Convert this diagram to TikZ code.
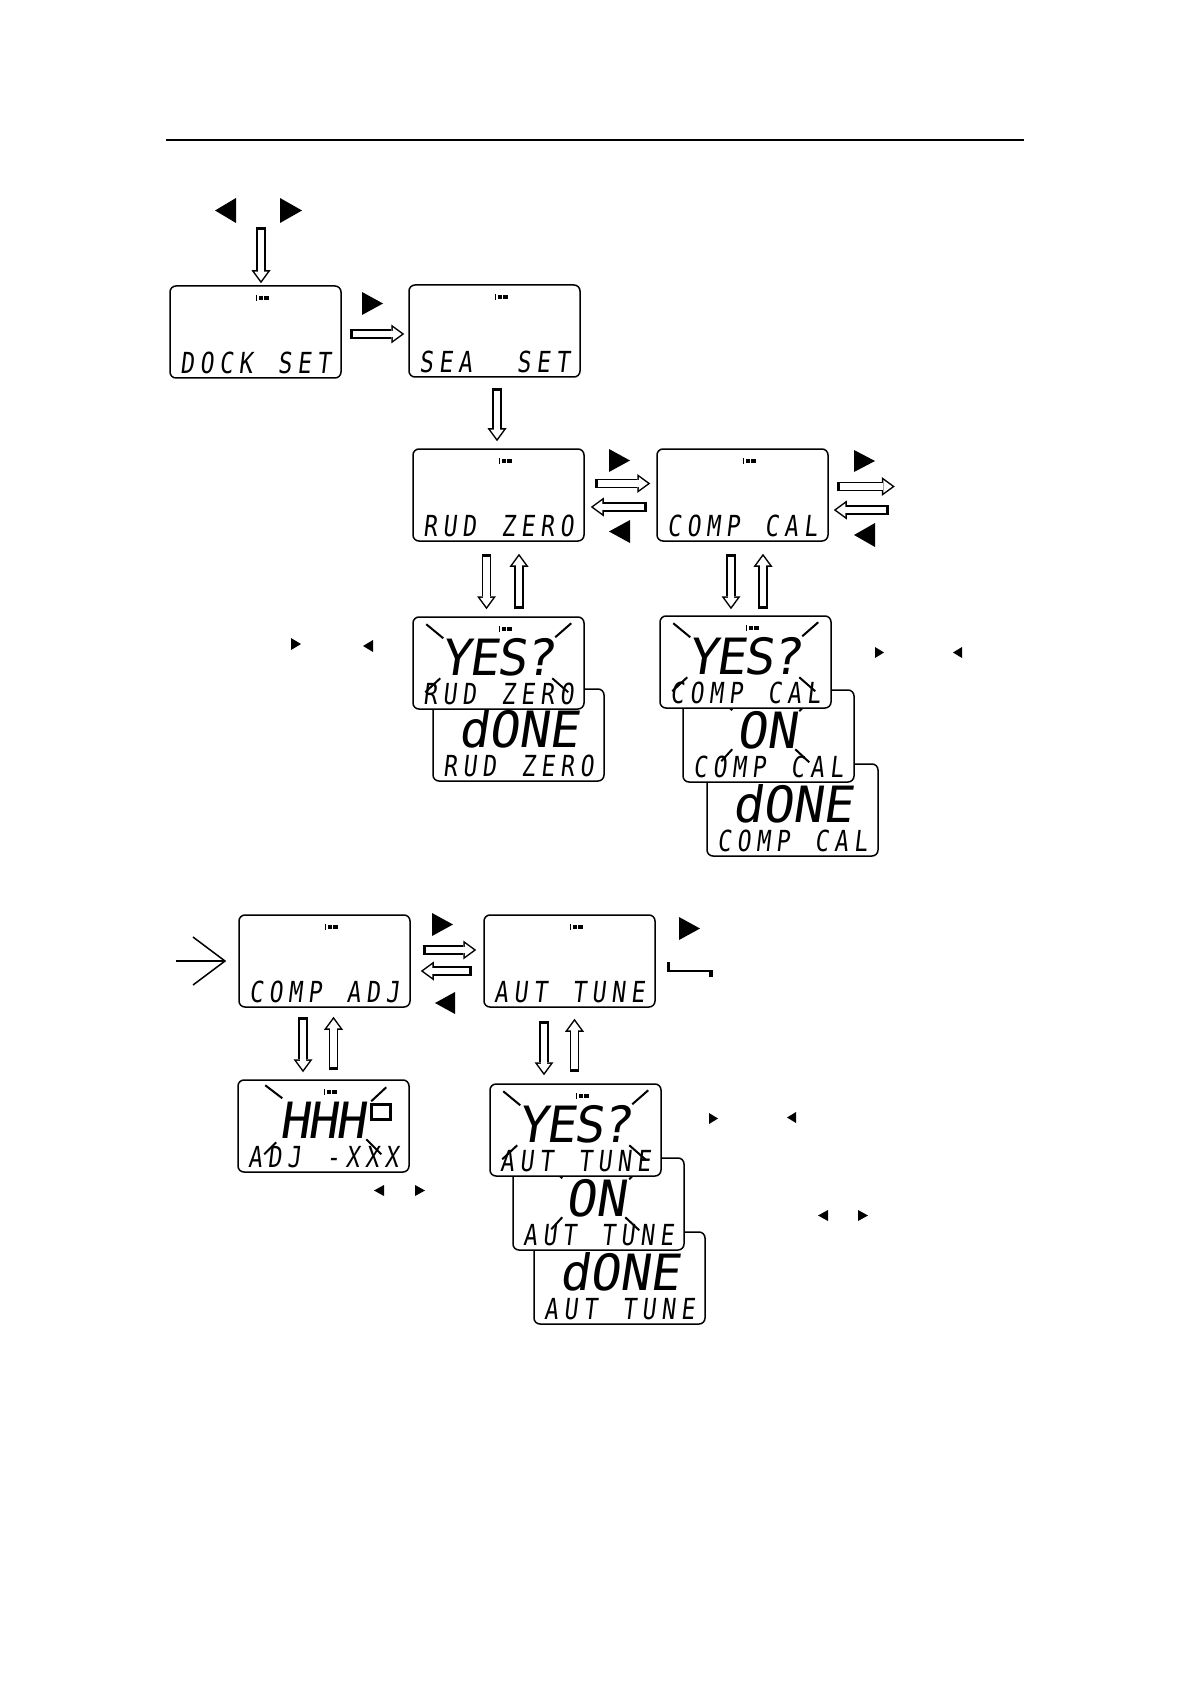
\documentclass[tikz,border=0pt]{standalone}
\usepackage{fontspec}
\usepackage{graphicx}
\usetikzlibrary{arrows.meta,calc}
\newfontfamily\lcdfont{DejaVu Sans Mono}[FakeSlant=0.15]

% each character in a cell of fixed pitch; "_" stands for a blank cell
\ExplSyntaxOn
\NewDocumentCommand\lcdchars{mm}{
  \str_map_inline:nn {#2}
    { \str_if_eq:nnTF {##1} {_} { \makebox[#1]{} } { \makebox[#1]{##1} } }
}
\ExplSyntaxOff

\newcommand\smalltxt[1]{\scalebox{1.15}[1.45]{\lcdfont\fontsize{10pt}{12pt}\selectfont\lcdchars{8.48pt}{#1}}}
\newcommand\bigtxt[2]{{\lcdfont\fontsize{25pt}{30pt}\selectfont\lcdchars{#1}{#2}}}

\tikzset{
  lcd/.style={draw, line width=0.75pt, rounded corners=3pt, fill=white,
    minimum width=85.5pt, minimum height=46pt, inner sep=0pt},
  lcdtxt/.style={inner sep=0pt, anchor=base},
  flashline/.style={line width=1pt},
  blockarrow/.style={draw=black, line width=4.75pt,
    -{Triangle[length=6.5pt,width=9.5pt,line width=0pt]},
    postaction={draw=white, line width=3.25pt, shorten <=1.5pt, shorten >=1.27pt,
      -{Triangle[length=4.48pt,width=6.55pt,line width=0pt]}}},
  thinarrow/.style={line width=0.75pt, -{Straight Barb[length=16pt,width=24pt]}},
}

\newcommand\lcdbox[3]{\node[lcd] (#1) at ({#2+85.5},{#3+46}) {};}
\newcommand\lcdicon[1]{%
  \fill ($(#1.north west)+(87,10)$) rectangle ++(1.2,6);
  \fill ($(#1.north west)+(89.5,11)$) rectangle ++(4.5,4);
  \fill ($(#1.north west)+(95,11)$) rectangle ++(5,4);}
\newcommand\lcdsmall[2]{\node[lcdtxt] (#1-s) at ($(#1.north west)+(86,88)$) {\smalltxt{#2}};}
% name, text, x offset, pitch
\newcommand\lcdbig[4]{\node[lcdtxt] (#1-b) at ($(#1.north west)+(#3,59)$) {\bigtxt{#4}{#2}};}
\newcommand\flashyes[1]{%
  \draw[flashline] ($(#1.north west)+(14,8)$) -- ($(#1.north west)+(31,22)$);
  \draw[flashline] ($(#1.north west)+(159,7)$) -- ($(#1.north west)+(143,21)$);
  \draw[flashline] ($(#1.north west)+(28,62)$) -- ($(#1.north west)+(13,76)$);
  \draw[flashline] ($(#1.north west)+(140,62)$) -- ($(#1.north west)+(156,76)$);}
\newcommand\flashon[1]{%
  \draw[flashline] ($(#1.north west)+(36,8)$) -- ($(#1.north west)+(50,21)$);
  \draw[flashline] ($(#1.north west)+(131,8)$) -- ($(#1.north west)+(117,22)$);
  \draw[flashline] ($(#1.north west)+(50,60)$) -- ($(#1.north west)+(39,72)$);
  \draw[flashline] ($(#1.north west)+(113,60)$) -- ($(#1.north west)+(127,73)$);}
\newcommand\flashhhh[1]{%
  \draw[flashline] ($(#1.north west)+(28,6)$) -- ($(#1.north west)+(45,19)$);
  \draw[flashline] ($(#1.north west)+(149,8)$) -- ($(#1.north west)+(134,22)$);
  \draw[flashline] ($(#1.north west)+(39,63)$) -- ($(#1.north west)+(27,75)$);
  \draw[flashline] ($(#1.north west)+(129,60)$) -- ($(#1.north west)+(144,75)$);}
\newcommand\triR[4]{\fill (#1,#2) -- (#3,{(#2+#4)/2}) -- (#1,#4) -- cycle;}
\newcommand\triL[4]{\fill (#3,#2) -- (#1,{(#2+#4)/2}) -- (#3,#4) -- cycle;}

\begin{document}
\begin{tikzpicture}[x=0.5pt,y=-0.5pt]
\useasboundingbox (0,0) rectangle (1190,1684);
\fill[white] (0,0) rectangle (1190,1684);

% top rule
\draw[line width=0.6pt] (166,140) -- (1024,140);

% ---------- row 1
\lcdbox{dock}{170}{286}
\lcdicon{dock}
\lcdsmall{dock}{DOCK SET}
\lcdbox{sea}{409}{285}
\lcdicon{sea}
\lcdsmall{sea}{SEA__SET}

% ---------- row 2
\lcdbox{rud}{413}{449}
\lcdicon{rud}
\lcdsmall{rud}{RUD ZERO}
\lcdbox{comp}{657}{449}
\lcdicon{comp}
\lcdsmall{comp}{COMP CAL}

% ---------- rudder zero stack
\lcdbox{donerud}{433}{689}
\lcdbig{donerud}{dONE}{86}{15pt}
\lcdsmall{donerud}{RUD ZERO}
\lcdbox{yesrud}{413}{617}
\lcdicon{yesrud}
\lcdbig{yesrud}{YES?}{85}{14pt}
\lcdsmall{yesrud}{RUD ZERO}
\flashyes{yesrud}

% ---------- compass cal stack
\lcdbox{donecomp}{707}{764}
\lcdbig{donecomp}{dONE}{86}{15pt}
\lcdsmall{donecomp}{COMP CAL}
\lcdbox{oncomp}{683}{690}
\lcdbig{oncomp}{ON}{84}{15pt}
\lcdsmall{oncomp}{COMP CAL}
\flashon{oncomp}
\lcdbox{yescomp}{660}{616}
\lcdicon{yescomp}
\lcdbig{yescomp}{YES?}{85}{14pt}
\lcdsmall{yescomp}{COMP CAL}
\flashyes{yescomp}

% ---------- row 3
\lcdbox{compadj}{239}{915}
\lcdicon{compadj}
\lcdsmall{compadj}{COMP ADJ}
\lcdbox{aut}{484}{915}
\lcdicon{aut}
\lcdsmall{aut}{AUT TUNE}

\lcdbox{hhh}{238}{1080}
\lcdicon{hhh}
\lcdbig{hhh}{HHH}{85}{14pt}
\draw[line width=1.25pt] ($(hhh.north west)+(134,25)$) rectangle ($(hhh.north west)+(153,40)$);
\lcdsmall{hhh}{ADJ -XXX}
\flashhhh{hhh}

% ---------- auto tune stack
\lcdbox{doneaut}{534}{1232}
\lcdbig{doneaut}{dONE}{86}{15pt}
\lcdsmall{doneaut}{AUT TUNE}
\lcdbox{onaut}{513}{1158}
\lcdbig{onaut}{ON}{83}{15pt}
\lcdsmall{onaut}{AUT TUNE}
\flashon{onaut}
\lcdbox{yesaut}{490}{1084}
\lcdicon{yesaut}
\lcdbig{yesaut}{YES?}{85}{14pt}
\lcdsmall{yesaut}{AUT TUNE}
\flashyes{yesaut}

% ---------- hollow arrows
\coordinate (topin) at ($(dock.north)+(5.5,-58)$);
\draw[blockarrow] (topin) -- ($(dock.north)+(5.5,-2)$);
\draw[blockarrow] ($(dock.east)+(8,2)$) -- ($(sea.west)+(-4,3)$);
\draw[blockarrow] ($(sea.south)+(2.5,10)$) -- ($(rud.north)+(-1.5,-7)$);
\draw[blockarrow] ($(rud.east)+(10,-11.5)$) -- ($(comp.west)+(-6,-11.5)$);
\draw[blockarrow] ($(comp.west)+(-9,12)$) -- ($(rud.east)+(6,12)$);
\coordinate (compout) at ($(comp.east)+(66,-8.5)$);
\coordinate (compin) at ($(comp.east)+(60,15)$);
\draw[blockarrow] ($(comp.east)+(8,-8.5)$) -- (compout);
\draw[blockarrow] (compin) -- ($(comp.east)+(5,15)$);
\draw[blockarrow] ($(rud.south)+(-12,12)$) -- ($(yesrud.north)+(-12,-7)$);
\draw[blockarrow] ($(yesrud.north)+(20.5,-7)$) -- ($(rud.south)+(20.5,12)$);
\draw[blockarrow] ($(comp.south)+(-11.5,12)$) -- ($(yescomp.north)+(-14.5,-6)$);
\draw[blockarrow] ($(yescomp.north)+(17.5,-6)$) -- ($(comp.south)+(20.5,12)$);

\draw[blockarrow] ($(compadj.east)+(12,-11)$) -- ($(aut.west)+(-7,-11)$);
\draw[blockarrow] ($(aut.west)+(-11,10)$) -- ($(compadj.east)+(10,10)$);
\draw[blockarrow] ($(compadj.south)+(-21.5,9)$) -- ($(hhh.north)+(-20.5,-7)$);
\draw[blockarrow] ($(hhh.north)+(10,-9)$) -- ($(compadj.south)+(9,9)$);
\draw[blockarrow] ($(aut.south)+(-25.5,13)$) -- ($(yesaut.north)+(-31.5,-8)$);
\draw[blockarrow] ($(yesaut.north)+(-1,-11)$) -- ($(aut.south)+(5,11)$);

% thin entry arrow
\coordinate (entry) at (176,961);
\draw[thinarrow] (entry) -- ($(compadj.west)+(-12,0)$);

% exit hook
\coordinate (hookA) at (668,963);
\coordinate (hookB) at (713,971);
\draw[line width=1pt] (hookA) |- (hookB);
\fill ($(hookA)+(-1.5,-1)$) rectangle ($(hookA)+(1.5,9)$);
\fill ($(hookB)+(-4,-1)$) rectangle ($(hookB)+(0,6)$);

% ---------- black triangles
\triL{215}{198}{236}{223}
\triR{280}{198}{302}{223}
\triR{362}{292}{383}{315}
\triR{609}{449}{630}{472}
\triL{609}{520}{630}{543}
\triR{854}{450}{875}{472}
\triL{854}{523}{875}{547}
\triR{291}{638}{301}{650}
\triL{363}{640}{373}{652}
\triR{875}{647}{884}{658}
\triL{953}{647}{962}{658}
\triR{432}{913}{453}{936}
\triL{435}{992}{455}{1014}
\triR{679}{917}{700}{940}
\triL{374}{1185}{384}{1196}
\triR{415}{1185}{425}{1196}
\triR{709}{1113}{718}{1124}
\triL{787}{1112}{796}{1123}
\triL{818}{1210}{828}{1221}
\triR{858}{1210}{868}{1221}
\end{tikzpicture}
\end{document}
